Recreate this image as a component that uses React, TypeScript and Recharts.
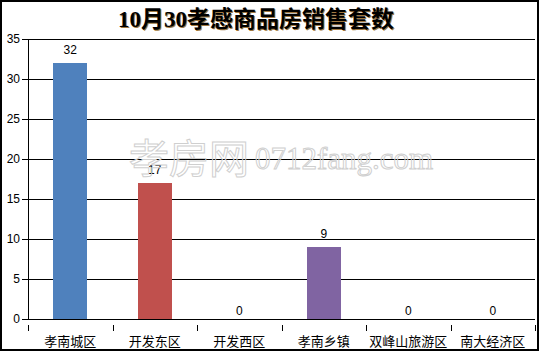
import React from "react";
import {
  ComposedChart,
  Bar,
  Line,
  Cell,
  XAxis,
  YAxis,
  CartesianGrid,
} from "recharts";

const categories = ["孝南城区", "开发东区", "开发西区", "孝南乡镇", "双峰山旅游区", "南大经济区"];
const sales = [32, 17, 0, 9, 0, 0];
const barColors = ["#4F81BD", "#C0504D", "#9BBB59", "#8064A2", "#4BACC6", "#F79646"];
const yTicks = [0, 5, 10, 15, 20, 25, 30, 35];
const title = "10月30孝感商品房销售套数";

const data = categories.map((name, i) => ({ name, value: sales[i] }));

const W = 539;
const H = 351;
const BAND = (535 - 28) / categories.length;
const SANS = "'Liberation Sans', Arial, sans-serif";

// category labels with boundary tick marks (Excel style)
const XTick = (props: any) => {
  const { x, y, payload, index } = props;
  const left = Math.round(x - BAND / 2) + 0.5;
  const right = Math.round(x + BAND / 2) + 0.5;
  return (
    <g>
      <line x1={left} y1={y - 2} x2={left} y2={y + 4} stroke="#000" />
      {index === categories.length - 1 && (
        <line x1={right} y1={y - 2} x2={right} y2={y + 4} stroke="#000" />
      )}
      <text
        x={x}
        y={y + 19}
        textAnchor="middle"
        fontSize={13}
        fontFamily="'Noto Sans CJK SC', sans-serif"
        fill="#000"
      >
        {payload.value}
      </text>
    </g>
  );
};

// value labels (also shown for zero values), hung on an invisible line
const ValueLabel = (props: any) => {
  const { x, y, value } = props;
  return (
    <text
      x={x}
      y={y - (value > 0 ? 9 : 4)}
      textAnchor="middle"
      fontSize={12}
      fontFamily={SANS}
      fill="#000"
    >
      {value}
    </text>
  );
};

export default function App() {
  return (
    <div
      style={{
        position: "absolute",
        left: 0,
        top: 0,
        width: W,
        height: H,
        boxSizing: "border-box",
        border: "2px solid #000",
        background: "#fff",
        overflow: "hidden",
      }}
    >
      <div style={{ position: "absolute", left: -2, top: -2 }}>
        <ComposedChart
          width={W}
          height={H}
          data={data}
          margin={{ top: 39, right: 4, left: 0, bottom: 0 }}
          barCategoryGap="30%"
          style={{ shapeRendering: "crispEdges" }}
        >
          <CartesianGrid horizontal vertical={false} stroke="#000" strokeOpacity={1} />
          <XAxis
            dataKey="name"
            height={32}
            axisLine={{ stroke: "#000" }}
            tickLine={false}
            tick={<XTick />}
            interval={0}
          />
          <YAxis
            width={28}
            domain={[0, 35]}
            ticks={yTicks}
            interval={0}
            axisLine={{ stroke: "#000" }}
            tickLine={{ stroke: "#000" }}
            tickSize={6}
            tick={{ fill: "#000", fontSize: 12, fontFamily: SANS }}
          />
          <Bar dataKey="value" isAnimationActive={false}>
            {data.map((_, i) => (
              <Cell key={`c-${i}`} fill={barColors[i]} />
            ))}
          </Bar>
          <Line
            dataKey="value"
            stroke="none"
            dot={false}
            activeDot={false}
            label={<ValueLabel />}
            isAnimationActive={false}
          />
        </ComposedChart>
      </div>

      <svg
        width={W}
        height={H}
        style={{ position: "absolute", left: -2, top: -2, pointerEvents: "none" }}
      >
        {/* watermark */}
        <text
          x={129}
          y={173}
          fontSize={40}
          fontFamily="'Noto Sans CJK SC', sans-serif"
          fill="none"
          stroke="#cfcfcf"
          strokeWidth={1}
        >
          孝房网
        </text>
        <text
          x={255}
          y={169}
          fontSize={31}
          fontFamily="'Liberation Serif', serif"
          fill="none"
          stroke="#cfcfcf"
          strokeWidth={1}
        >
          0712fang.com
        </text>
        {/* title */}
        <text
          x={257}
          y={28}
          textAnchor="middle"
          fontSize={23}
          fontWeight="bold"
          fontFamily="'Liberation Serif', 'Noto Sans CJK SC', serif"
          fill="#a07840"
        >
          {title}
        </text>
        <text
          x={256}
          y={27}
          textAnchor="middle"
          fontSize={23}
          fontWeight="bold"
          fontFamily="'Liberation Serif', 'Noto Sans CJK SC', serif"
          fill="#000"
        >
          {title}
        </text>
      </svg>
    </div>
  );
}
